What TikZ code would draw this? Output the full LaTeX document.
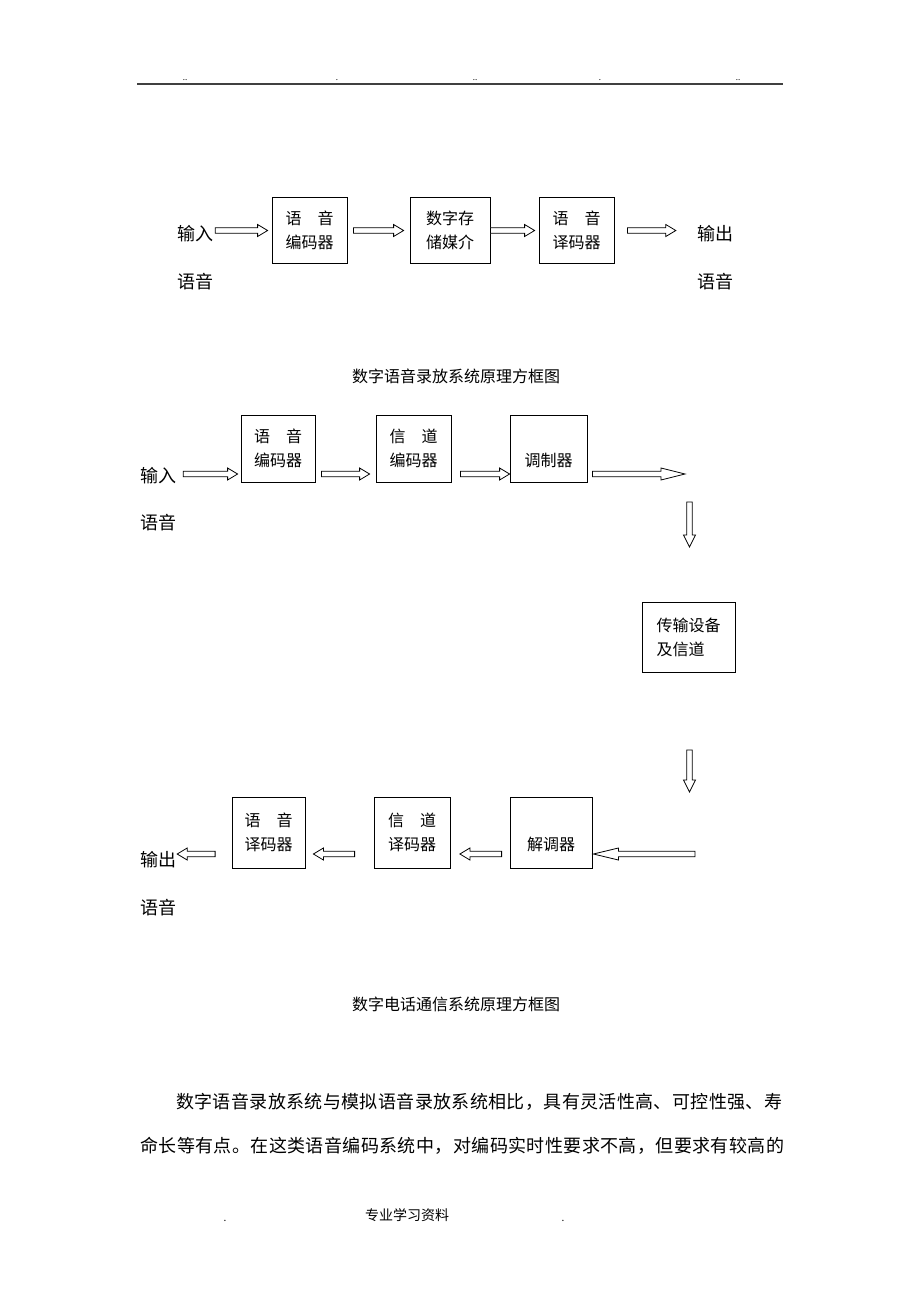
\documentclass[tikz,border=0pt]{standalone}
\usepackage{fontspec}
\setmainfont{Noto Sans CJK SC}
\usetikzlibrary{calc}
\newcommand\fs[2]{\fontsize{#1}{#2}\selectfont}
\makeatletter
\def\spreadit#1{#1\spread@rest}
\def\spread@rest#1{\ifx#1\relax\else\hfil#1\expandafter\spread@rest\fi}
\makeatother
\tikzset{
  box/.style={draw, line width=0.8pt, inner sep=0pt, align=center, font=\fs{16}{24}},
  lab/.style={inner sep=0pt, font=\fs{18}{22}},
  harrow/.style={draw, line width=0.8pt, fill=white, line join=miter},
}
% hollow block arrow from #2 to #3, head length #1
\newcommand\hollowarrow[3][10]{%
  \path let \p1=(#2), \p2=(#3) in \pgfextra{%
    \pgfmathsetmacro\hA{atan2(\y2-\y1,\x2-\x1)}%
    \pgfmathsetmacro\hL{veclen(\x2-\x1,\y2-\y1)}%
    \xdef\hA{\hA}\xdef\hL{\hL}\xdef\hX{\x1}\xdef\hY{\y1}};
  \begin{scope}[shift={(\hX,\hY)},rotate=\hA]
    \draw[harrow] (0pt,2.8pt) -- ({(\hL-#1)*1pt},2.8pt) -- ({(\hL-#1)*1pt},6pt)
      -- ({\hL*1pt},0pt) -- ({(\hL-#1)*1pt},-6pt) -- ({(\hL-#1)*1pt},-2.8pt)
      -- (0pt,-2.8pt) -- cycle;
  \end{scope}}
\begin{document}
\begin{tikzpicture}[x=1pt,y=-1pt]
\path[fill=white] (0,0) rectangle (920,1302);
\useasboundingbox (0,0) rectangle (920,1302);

% header
\draw[line width=1.3pt, black!75] (137,84) -- (783,84);
\foreach \hx/\htxt in {185/{..},337/{.},475/{..},600/{.},738/{..}}
  \node[inner sep=0pt, anchor=base, font=\fs{8}{10}] at (\hx,80) {\htxt};

% ---------- diagram 1 ----------
\node[lab] (in1) at (195,234) {输入};
\node[lab] (in1b) at (195,282) {语音};
\node[box, minimum width=75, minimum height=66] (b1) at (309.5,230) {语　音\\编码器};
\node[box, minimum width=80, minimum height=66] (b2) at (450,230) {数字存\\储媒介};
\node[box, minimum width=75, minimum height=66] (b3) at (576.5,230) {语　音\\译码器};
\node[lab] (out1) at (715,234) {输出};
\node[lab] (out1b) at (715,282) {语音};

\hollowarrow{$(in1.east)+(2,-3.5)$}{$(b1.west)+(-4,0.5)$}
\hollowarrow{$(b1.east)+(6,0.5)$}{$(b2.west)+(-6,0.5)$}
\hollowarrow{$(b2.east)+(0,0.5)$}{$(b3.west)+(-4,0.5)$}
\hollowarrow{$(b3.east)+(13,0.5)$}{$(out1.west)+(-21,-3.5)$}

\node[font=\fs{16}{20}, inner sep=0pt] (cap1) at (456,376) {数字语音录放系统原理方框图};

% ---------- diagram 2 ----------
\node[lab] (in2) at (158,476) {输入};
\node[lab] (in2b) at (158,523) {语音};
\node[box, minimum width=74, minimum height=67] (bA) at (278,448.5) {语　音\\编码器};
\node[box, minimum width=75, minimum height=67] (bB) at (413.5,448.5) {信　道\\编码器};
\node[box, minimum width=77, minimum height=67] (bC) at (548.5,448.5) {\phantom{调}\\调制器};
\coordinate (c1) at (685,474);

\hollowarrow{$(in2.east)+(7,-2)$}{$(bA.west)+(-3,25.5)$}
\hollowarrow{$(bA.east)+(6,25.5)$}{$(bB.west)+(-6,25.5)$}
\hollowarrow{$(bB.east)+(9,25.5)$}{$(bC.west)+(0,25.5)$}
\hollowarrow[24]{$(bC.east)+(5,25.5)$}{c1}

\node[box, align=left, minimum width=93, minimum height=70] (bD) at (688.5,637) {传输设备\\及信道};
\coordinate (d1s) at (689.5,502);
\coordinate (d1e) at (689.5,547);
\coordinate (d2s) at (689.5,750);
\coordinate (d2e) at (689.5,792);
\hollowarrow[12]{d1s}{d1e}
\hollowarrow[12]{d2s}{d2e}

\node[box, minimum width=82, minimum height=71] (bE) at (551,832.5) {\phantom{解}\\解调器};
\node[box, minimum width=76, minimum height=71] (bF) at (412,832.5) {信　道\\译码器};
\node[box, minimum width=73, minimum height=71] (bG) at (268.5,832.5) {语　音\\译码器};
\node[lab] (out2) at (158,860) {输出};
\node[lab] (out2b) at (158,908) {语音};
\coordinate (c2) at (695,854);

\hollowarrow[25]{c2}{$(bE.east)+(1,21.5)$}
\hollowarrow{$(bE.west)+(-8,21.5)$}{$(bF.east)+(9.5,21.5)$}
\hollowarrow{$(bF.west)+(-19,21.5)$}{$(bG.east)+(8,21.5)$}
\hollowarrow{$(bG.west)+(-16.5,21.5)$}{$(out2.east)+(1,-6)$}

\node[font=\fs{16}{20}, inner sep=0pt] (cap2) at (456,1004) {数字电话通信系统原理方框图};

% ---------- paragraph ----------
\node[inner sep=0pt, anchor=west, font=\fs{18}{22}] (p1) at (176,1102)
  {\hbox to 606pt{\spreadit 数字语音录放系统与模拟语音录放系统相比，具有灵活性高、可控性强、寿\relax}};
\node[inner sep=0pt, anchor=west, font=\fs{18}{22}] (p2) at (140,1146)
  {\hbox to 644pt{\spreadit 命长等有点。在这类语音编码系统中，对编码实时性要求不高，但要求有较高的\relax}};

% footer
\node[inner sep=0pt, font=\fs{14}{16}] (foot) at (407,1215) {专业学习资料};
\node[inner sep=0pt, anchor=base, font=\fs{10}{12}] (fd1) at (225,1221) {.};
\node[inner sep=0pt, anchor=base, font=\fs{10}{12}] (fd2) at (563,1221) {.};
\end{tikzpicture}
\end{document}
